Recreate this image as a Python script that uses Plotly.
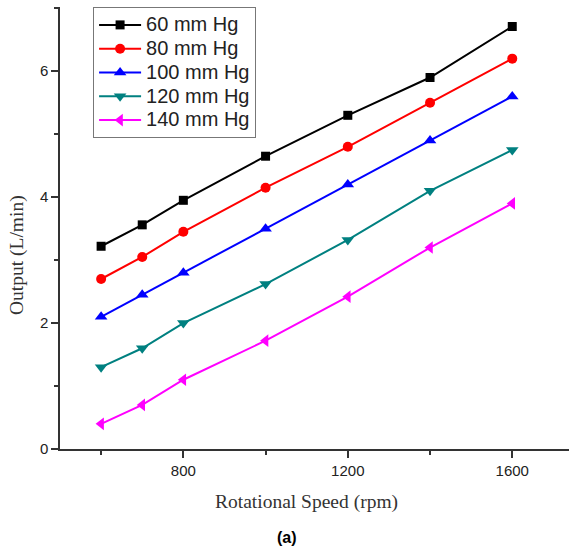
import plotly.graph_objects as go

speed = [600, 700, 800, 1000, 1200, 1400, 1600]
out_60 = [3.22, 3.56, 3.95, 4.65, 5.30, 5.90, 6.71]
out_80 = [2.70, 3.05, 3.45, 4.15, 4.80, 5.50, 6.20]
out_100 = [2.10, 2.45, 2.80, 3.50, 4.20, 4.90, 5.60]
out_120 = [1.30, 1.60, 2.00, 2.62, 3.32, 4.10, 4.75]
out_140 = [0.40, 0.70, 1.10, 1.72, 2.42, 3.20, 3.90]

names = ["60 mm Hg", "80 mm Hg", "100 mm Hg", "120 mm Hg", "140 mm Hg"]
series = [out_60, out_80, out_100, out_120, out_140]
colors = ["#000000", "#FF0000", "#0000FF", "#008080", "#FF00FF"]
symbols = ["square", "circle", "triangle-up", "triangle-down", "triangle-left"]
sizes = [9, 10, 11, 11, 11]

fig = go.Figure()
for n, s, c, m, sz in zip(names, series, colors, symbols, sizes):
    fig.add_trace(go.Scatter(
        x=speed, y=s, name='<span style="font-size:20px">' + n + '</span>',
        mode="lines+markers",
        line=dict(color=c, width=2),
        marker=dict(symbol=m, size=sz, color=c),
    ))

axis_common = dict(
    showline=True, linecolor="#333333", linewidth=1.5,
    ticks="outside", tickcolor="#333333", ticklen=7, tickwidth=1.5,
    showgrid=False, zeroline=False,
    tickfont=dict(family="Liberation Sans, Arial", size=15, color="#222222"),
)

fig.update_xaxes(
    range=[500, 1738], tick0=0, dtick=400,
    minor=dict(dtick=200, tick0=0, ticks="outside", ticklen=4, tickcolor="#333333", tickwidth=1.5),
    **axis_common,
)
fig.update_yaxes(
    range=[0, 7.02], tick0=0, dtick=2,
    minor=dict(dtick=1, tick0=0, ticks="outside", ticklen=4, tickcolor="#333333", tickwidth=1.5),
    **axis_common,
)

fig.update_layout(
    width=571, height=549,
    margin=dict(l=60, r=2, t=7, b=100),
    plot_bgcolor="white", paper_bgcolor="white",
    showlegend=True,
    legend=dict(
        x=0.065, y=1, xanchor="left", yanchor="top",
        bordercolor="#777777", borderwidth=1, bgcolor="white",
        font=dict(family="Liberation Sans, Arial", size=16, color="#222222"),
        tracegroupgap=0, itemwidth=42,
    ),
    annotations=[
        dict(text="Rotational Speed (rpm)", xref="paper", yref="paper",
             x=(306 - 60) / 509, y=-(502 - 449) / 442, xanchor="center", yanchor="middle",
             showarrow=False, font=dict(family="Liberation Serif, Times New Roman", size=19.5, color="#333333")),
        dict(text="Output (L/min)", xref="paper", yref="paper", textangle=-90,
             x=-(60 - 17) / 509, y=(449 - 255) / 442, xanchor="center", yanchor="middle",
             showarrow=False, font=dict(family="Liberation Serif, Times New Roman", size=19.5, color="#333333")),
        dict(text="<b>(a)</b>", xref="paper", yref="paper",
             x=(287 - 60) / 509, y=-(537 - 449) / 442, xanchor="center", yanchor="middle",
             showarrow=False, font=dict(family="Liberation Sans, Arial", size=16, color="#000000")),
    ],
)

fig.write_html("out.html", config={"displayModeBar": False},
               post_script="document.body.style.margin='0';document.body.style.overflow='hidden';")
